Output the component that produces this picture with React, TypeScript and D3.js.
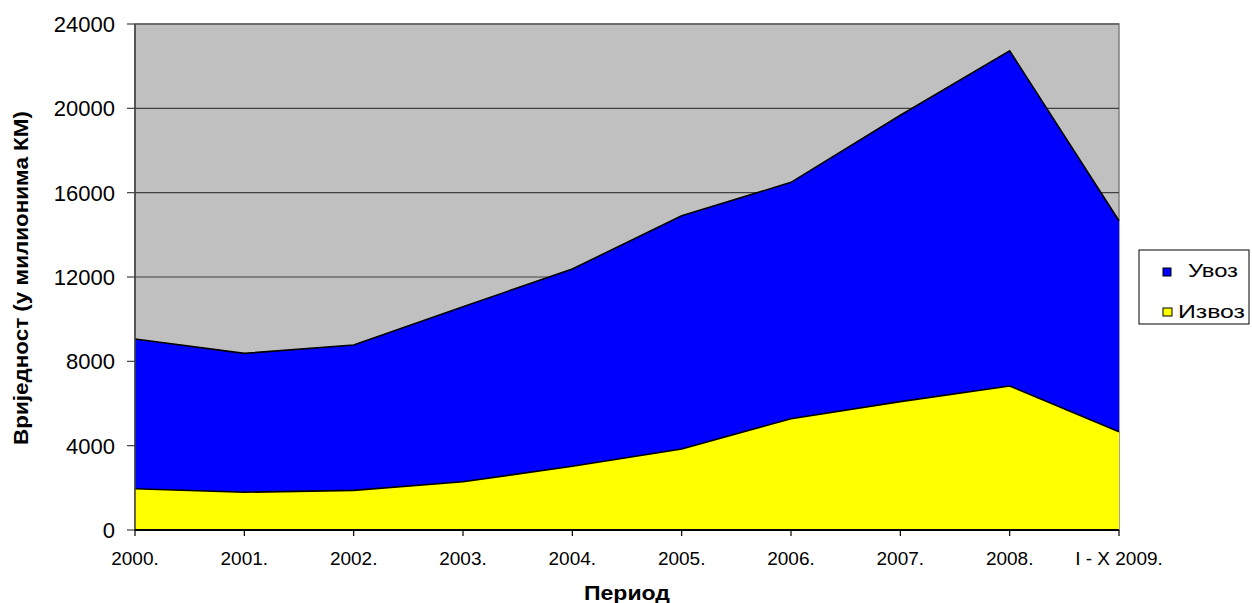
import React from "react";
import * as d3 from "d3";

const categories = ["2000.", "2001.", "2002.", "2003.", "2004.", "2005.", "2006.", "2007.", "2008.", "I - X 2009."];
const izvoz = [1960, 1790, 1880, 2290, 3020, 3840, 5280, 6090, 6830, 4660];
const uvoz = [7100, 6590, 6895, 8300, 9360, 11060, 11210, 13580, 15900, 10010];
const yTicks = [0, 4000, 8000, 12000, 16000, 20000, 24000];
const seriesNames = ["Увоз", "Извоз"];

const W = 1252;
const H = 603;
const plot = { left: 135, right: 1119, top: 24, bottom: 530 };
const FONT = "'Liberation Sans', Arial, sans-serif";

export default function App() {
  const x = d3.scalePoint<string>().domain(categories).range([plot.left, plot.right]);
  const y = d3.scaleLinear().domain([0, 24000]).range([plot.bottom, plot.top]);

  const rows = categories.map((c, i) => ({ cat: c, izvoz: izvoz[i], uvoz: uvoz[i] }));
  const stack = d3.stack<any>().keys(["izvoz", "uvoz"]);
  const series = stack(rows);
  const colors: Record<string, string> = { izvoz: "#FFFF00", uvoz: "#0000FF" };

  const area = d3
    .area<any>()
    .x((d) => x(d.data.cat) as number)
    .y0((d) => y(d[0]))
    .y1((d) => y(d[1]));
  const line = d3
    .line<any>()
    .x((d) => x(d.data.cat) as number)
    .y((d) => y(d[1]));

  return (
    <div style={{ position: "absolute", left: 0, top: 0 }}>
      <svg width={W} height={H} style={{ display: "block", fontFamily: FONT }}>
        <rect x={0} y={0} width={W} height={H} fill="#ffffff" />
        <rect
          x={plot.left}
          y={plot.top}
          width={plot.right - plot.left}
          height={plot.bottom - plot.top}
          fill="#C0C0C0"
          stroke="#808080"
          strokeWidth={1.5}
        />
        {yTicks.map((t) => (
          <line key={"g" + t} x1={plot.left} x2={plot.right} y1={y(t)} y2={y(t)} stroke="#404040" strokeWidth={1.2} />
        ))}
        {series.map((s) => (
          <path key={s.key} d={area(s) || ""} fill={colors[s.key]} />
        ))}
        {series.map((s) => (
          <path key={"l" + s.key} d={line(s) || ""} fill="none" stroke="#000" strokeWidth={1.6} />
        ))}
        {/* axes */}
        <line x1={plot.left} x2={plot.left} y1={plot.top} y2={plot.bottom} stroke="#404040" strokeWidth={1.5} />
        <line x1={plot.left} x2={plot.right} y1={plot.bottom} y2={plot.bottom} stroke="#000" strokeWidth={2} />
        {yTicks.map((t) => (
          <g key={"yt" + t}>
            <line x1={plot.left - 8} x2={plot.left} y1={y(t)} y2={y(t)} stroke="#404040" strokeWidth={1.2} />
            <text x={115} y={y(t)} dy="0.36em" textAnchor="end" fontSize={22} fill="#000">
              {t}
            </text>
          </g>
        ))}
        {categories.map((c) => (
          <g key={"xt" + c}>
            <line x1={x(c)} x2={x(c)} y1={plot.bottom} y2={plot.bottom + 6} stroke="#000" strokeWidth={1.2} />
            <text x={x(c) as number} y={565} textAnchor="middle" fontSize={19} fill="#000">
              {c}
            </text>
          </g>
        ))}
        <text
          x={(plot.left + plot.right) / 2}
          y={600}
          textAnchor="middle"
          fontSize={21}
          fontWeight="bold"
          textLength={86}
          lengthAdjust="spacingAndGlyphs"
          fill="#000"
        >
          Период
        </text>
        <text
          transform={`translate(28, ${(plot.top + plot.bottom) / 2 + 1}) rotate(-90)`}
          textAnchor="middle"
          fontSize={21}
          fontWeight="bold"
          textLength={334}
          lengthAdjust="spacingAndGlyphs"
          fill="#000"
        >
          Вриједност (у милионима КМ)
        </text>
        {/* legend */}
        <rect x={1139} y={250} width={110} height={74} fill="#fff" stroke="#000" strokeWidth={1} />
        <rect x={1163} y={268} width={8} height={8} fill="#0000FF" stroke="#000" strokeWidth={1} />
        <text x={1188} y={277} fontSize={19} textLength={50} lengthAdjust="spacingAndGlyphs" fill="#000">
          {seriesNames[0]}
        </text>
        <rect x={1163} y={308} width={9} height={8} fill="#FFFF00" stroke="#000" strokeWidth={1} />
        <text x={1178} y={318} fontSize={19} textLength={67} lengthAdjust="spacingAndGlyphs" fill="#000">
          {seriesNames[1]}
        </text>
      </svg>
    </div>
  );
}
